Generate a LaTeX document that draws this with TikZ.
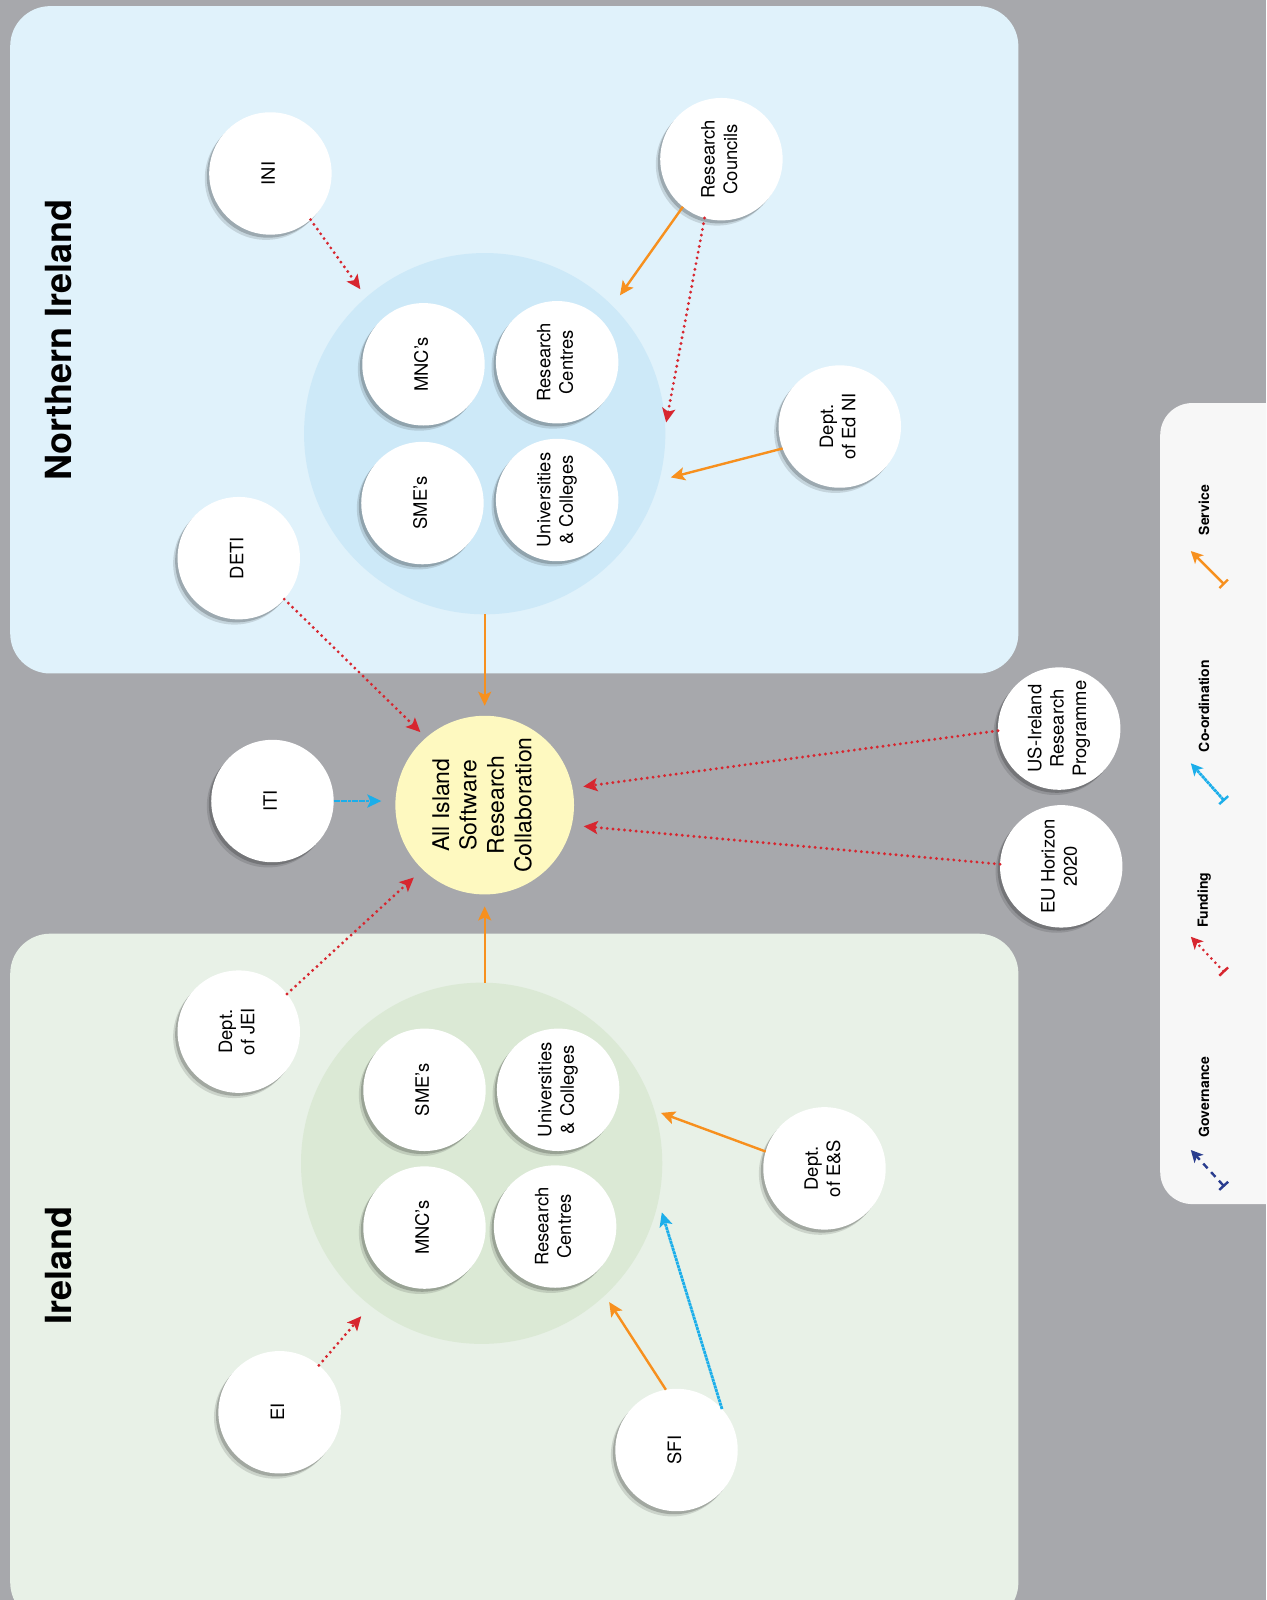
\documentclass[tikz,border=0pt]{standalone}
\usepackage{fontspec}
\setmainfont{TeX Gyre Heros}
\usetikzlibrary{arrows.meta}
\definecolor{bggray}{HTML}{A7A8AC}
\definecolor{nipanel}{HTML}{E0F2FB}
\definecolor{nibigc}{HTML}{CDE9F8}
\definecolor{iepanel}{HTML}{E8F1E7}
\definecolor{iebigc}{HTML}{DBE9D5}
\definecolor{legpanel}{HTML}{F7F7F7}
\definecolor{aisyellow}{HTML}{FEF9C0}
\definecolor{svcorange}{HTML}{F7901E}
\definecolor{fundred}{HTML}{D7262F}
\definecolor{coordblue}{HTML}{1BAEEA}
\definecolor{govnavy}{HTML}{2A3D8F}
\newcommand\rlab[1]{\rotatebox{90}{\begin{tabular}{@{}c@{}}#1\end{tabular}}}
\tikzset{
  wcirc/.style={circle, fill=white, minimum size=61.2pt, inner sep=0pt, outer sep=0pt,
    preaction={fill=black, fill opacity=0.12, transform canvas={shift={(-2.2pt,-2.6pt)}}},
    preaction={fill=black, fill opacity=0.2, transform canvas={shift={(-1.2pt,-1.5pt)}}},
    font=\fontsize{9.2}{11.2}\selectfont},
  bigc/.style={circle, minimum size=180.6pt, inner sep=0pt, outer sep=0pt},
  tipS/.style={-{Stealth[length=7pt,width=6.5pt,inset=1.5pt]}},
  service/.style={draw=svcorange, line width=1.2pt, tipS},
  funding/.style={draw=fundred, line width=1.6pt, dash pattern=on 0pt off 2.9pt, line cap=round, tipS},
  coord/.style={draw=coordblue, line width=1.4pt, dash pattern=on 1.5pt off 0.3pt, tipS},
  legtail/.style={{Bar[width=6pt,line width=1.2pt]}-{Stealth[length=6pt,width=6pt,inset=1.5pt]}},
  leglab/.style={font=\fontsize{7}{8}\selectfont\bfseries, rotate=90, inner sep=0pt},
  title/.style={font=\fontsize{18}{20}\selectfont\bfseries, rotate=90, inner sep=0pt}
}
\begin{document}
\begin{tikzpicture}[x=0.5101pt,y=-0.5101pt]
\useasboundingbox (0,0) rectangle (1241,1568);
\clip (0,0) rectangle (1241,1568);
\fill[bggray] (0,0) rectangle (1241,1568);
% panels
\fill[nipanel, rounded corners=20pt] (10,6) rectangle (998,660);
\fill[iepanel, rounded corners=20pt] (10,915) rectangle (998,1590);
\fill[legpanel, rounded corners=16pt] (1137,395) rectangle (1300,1180);
% titles
\node[title] (tni) at (57,333) {Northern Ireland};
\node[title] (tie) at (57,1240) {Ireland};
% big circles
\node[bigc, fill=nibigc] (nibig) at (475,425) {};
\node[bigc, fill=iebigc] (iebig) at (472,1140) {};
% NI inner
\node[wcirc] (nimnc) at (415,357) {\rlab{MNC's}};
\node[wcirc] (nirc) at (546,355) {\rlab{Research\\Centres}};
\node[wcirc] (nisme) at (414,493) {\rlab{SME's}};
\node[wcirc] (niuc) at (546,490) {\rlab{Universities\\\& Colleges}};
% IE inner
\node[wcirc] (iesme) at (416,1068) {\rlab{SME's}};
\node[wcirc] (ieuc) at (547,1068) {\rlab{Universities\\\& Colleges}};
\node[wcirc] (iemnc) at (416,1203) {\rlab{MNC's}};
\node[wcirc] (ierc) at (544,1202) {\rlab{Research\\Centres}};
% outer circles
\node[wcirc] (ini) at (265,170) {\rlab{INI}};
\node[wcirc] (deti) at (234,547) {\rlab{DETI}};
\node[wcirc] (rco) at (707,156) {\rlab{Research\\Councils}};
\node[wcirc] (dedni) at (823,418) {\rlab{Dept.\\of Ed NI}};
\node[wcirc] (iti) at (267,785) {\rlab{ITI}};
\node[wcirc] (usir) at (1038,714) {\rlab{US-Ireland\\Research\\Programme}};
\node[wcirc] (euh) at (1040,849) {\rlab{EU Horizon\\2020}};
\node[wcirc] (jei) at (234,1011) {\rlab{Dept.\\of JEI}};
\node[wcirc] (des) at (808,1145) {\rlab{Dept.\\of E\&S}};
\node[wcirc] (ei) at (274,1384) {\rlab{EI}};
\node[wcirc] (sfi) at (663,1421) {\rlab{SFI}};
% central
\node[circle, fill=aisyellow, minimum size=89.3pt, inner sep=0pt, outer sep=0pt,
  font=\fontsize{11.5}{13.7}\selectfont] (ais) at (475,789)
  {\rlab{All Island\\Software\\Research\\Collaboration}};
% connectors
\draw[service, shorten >=5pt] (nibig.south) -- (ais.north);
\draw[service, shorten >=6pt] (ais.south |- iebig.north) -- (ais.south);
\draw[coord, shorten >=7pt] (iti.east) -- (iti.east -| ais.west);
\draw[funding, shorten >=4pt] (deti.-42) -- (ais.131);
\draw[funding, shorten >=6pt] (jei.38) -- (ais.226);
\draw[funding, shorten >=5.5pt] (usir.182) -- (ais.11);
\draw[funding, shorten >=6pt] (euh.178) -- (ais.-13);
\draw[funding, shorten >=5pt] (ini.-49) -- (nibig.131);
\draw[service, shorten >=6.5pt] (rco.231) -- (nibig.45);
\draw[funding, shorten >=2.5pt] (rco.-106) -- (nibig.2.5);
\draw[service, shorten >=6pt] (dedni.201) -- (nibig.-15);
\draw[service, shorten >=3.5pt] (des.164) -- (iebig.17);
\draw[service, shorten >=4pt] (sfi.100) -- (iebig.-47);
\draw[coord, shorten >=6pt] (sfi.42) -- (iebig.-12.5);
\draw[funding, shorten >=7pt] (ei.50) -- (iebig.232);
% legend
\coordinate (s1) at (1200,573); \coordinate (s2) at (1167,540);
\coordinate (c1) at (1200,785); \coordinate (c2) at (1167,748);
\coordinate (f1) at (1200,953); \coordinate (f2) at (1167,918);
\coordinate (g1) at (1200,1163); \coordinate (g2) at (1167,1127);
\draw[svcorange, line width=1.2pt, legtail] (s1) -- (s2);
\draw[coordblue, line width=1.4pt, dash pattern=on 1.5pt off 0.3pt, legtail] (c1) -- (c2);
\draw[fundred, line width=1.5pt, dash pattern=on 0pt off 2.9pt, line cap=round, legtail] (f1) -- (f2);
\draw[govnavy, line width=1.2pt, dash pattern=on 3.2pt off 2.6pt, legtail] (g1) -- (g2);
\node[leglab] (ls) at (1180,500) {Service};
\node[leglab] (lc) at (1180,692) {Co-ordination};
\node[leglab] (lf) at (1180,882) {Funding};
\node[leglab] (lg) at (1180,1075) {Governance};
\end{tikzpicture}
\end{document}
